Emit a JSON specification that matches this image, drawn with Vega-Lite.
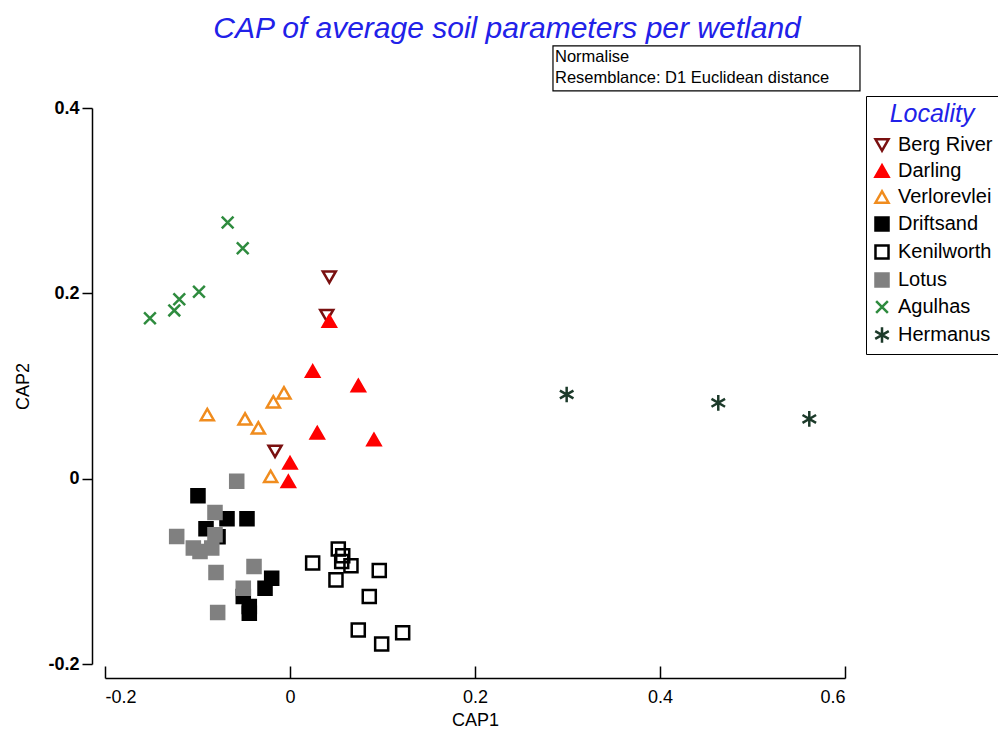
{
  "$schema": "https://vega.github.io/schema/vega-lite/v6.json",
  "autosize": {"type": "none"},
  "width": 740,
  "height": 556,
  "padding": {"left": 105, "top": 108, "right": 153, "bottom": 69},
  "background": "white",
  "title": {
    "text": "CAP of average soil parameters per wetland",
    "font": "Liberation Sans",
    "fontSize": 30,
    "fontStyle": "italic",
    "fontWeight": "normal",
    "color": "#2121e8",
    "anchor": "middle",
    "frame": "group",
    "dx": 32,
    "offset": 1
  },
  "layer": [
    {
      "data": {
        "values": [
          {"Locality": "Agulhas", "CAP1": -0.0674, "CAP2": 0.2764},
          {"Locality": "Agulhas", "CAP1": -0.0511, "CAP2": 0.2486},
          {"Locality": "Agulhas", "CAP1": -0.0984, "CAP2": 0.2018},
          {"Locality": "Agulhas", "CAP1": -0.1197, "CAP2": 0.1935},
          {"Locality": "Agulhas", "CAP1": -0.1251, "CAP2": 0.1816},
          {"Locality": "Agulhas", "CAP1": -0.1514, "CAP2": 0.1730},
          {"Locality": "Hermanus", "CAP1": 0.2991, "CAP2": 0.0908},
          {"Locality": "Hermanus", "CAP1": 0.4630, "CAP2": 0.0818},
          {"Locality": "Hermanus", "CAP1": 0.5614, "CAP2": 0.0645},
          {"Locality": "Verlorevlei", "CAP1": -0.0894, "CAP2": 0.0692},
          {"Locality": "Verlorevlei", "CAP1": -0.0486, "CAP2": 0.0645},
          {"Locality": "Verlorevlei", "CAP1": -0.0342, "CAP2": 0.0548},
          {"Locality": "Verlorevlei", "CAP1": -0.0180, "CAP2": 0.0829},
          {"Locality": "Verlorevlei", "CAP1": -0.0065, "CAP2": 0.0926},
          {"Locality": "Verlorevlei", "CAP1": -0.0209, "CAP2": 0.0025},
          {"Locality": "Berg River", "CAP1": 0.0425, "CAP2": 0.2176},
          {"Locality": "Berg River", "CAP1": 0.0397, "CAP2": 0.1760},
          {"Locality": "Berg River", "CAP1": -0.0162, "CAP2": 0.0295},
          {"Locality": "Darling", "CAP1": 0.0425, "CAP2": 0.1700},
          {"Locality": "Darling", "CAP1": 0.0245, "CAP2": 0.1160},
          {"Locality": "Darling", "CAP1": 0.0739, "CAP2": 0.1005},
          {"Locality": "Darling", "CAP1": 0.0295, "CAP2": 0.0494},
          {"Locality": "Darling", "CAP1": 0.0908, "CAP2": 0.0422},
          {"Locality": "Darling", "CAP1": 0.0000, "CAP2": 0.0170},
          {"Locality": "Darling", "CAP1": -0.0018, "CAP2": -0.0030},
          {"Locality": "Driftsand", "CAP1": -0.0995, "CAP2": -0.0184},
          {"Locality": "Driftsand", "CAP1": -0.0908, "CAP2": -0.0541},
          {"Locality": "Driftsand", "CAP1": -0.0681, "CAP2": -0.0432},
          {"Locality": "Driftsand", "CAP1": -0.0465, "CAP2": -0.0432},
          {"Locality": "Driftsand", "CAP1": -0.0778, "CAP2": -0.0627},
          {"Locality": "Driftsand", "CAP1": -0.0198, "CAP2": -0.1074},
          {"Locality": "Driftsand", "CAP1": -0.0270, "CAP2": -0.1182},
          {"Locality": "Driftsand", "CAP1": -0.0505, "CAP2": -0.1272},
          {"Locality": "Driftsand", "CAP1": -0.0440, "CAP2": -0.1380},
          {"Locality": "Driftsand", "CAP1": -0.0440, "CAP2": -0.1452},
          {"Locality": "Lotus", "CAP1": -0.0576, "CAP2": -0.0029},
          {"Locality": "Lotus", "CAP1": -0.0811, "CAP2": -0.0364},
          {"Locality": "Lotus", "CAP1": -0.1225, "CAP2": -0.0624},
          {"Locality": "Lotus", "CAP1": -0.1045, "CAP2": -0.0749},
          {"Locality": "Lotus", "CAP1": -0.0973, "CAP2": -0.0786},
          {"Locality": "Lotus", "CAP1": -0.0846, "CAP2": -0.0749},
          {"Locality": "Lotus", "CAP1": -0.0811, "CAP2": -0.0605},
          {"Locality": "Lotus", "CAP1": -0.0800, "CAP2": -0.1013},
          {"Locality": "Lotus", "CAP1": -0.0389, "CAP2": -0.0948},
          {"Locality": "Lotus", "CAP1": -0.0505, "CAP2": -0.1182},
          {"Locality": "Lotus", "CAP1": -0.0782, "CAP2": -0.1445},
          {"Locality": "Kenilworth", "CAP1": 0.0245, "CAP2": -0.0911},
          {"Locality": "Kenilworth", "CAP1": 0.0522, "CAP2": -0.0760},
          {"Locality": "Kenilworth", "CAP1": 0.0570, "CAP2": -0.0832},
          {"Locality": "Kenilworth", "CAP1": 0.0559, "CAP2": -0.0894},
          {"Locality": "Kenilworth", "CAP1": 0.0659, "CAP2": -0.0940},
          {"Locality": "Kenilworth", "CAP1": 0.0497, "CAP2": -0.1092},
          {"Locality": "Kenilworth", "CAP1": 0.0965, "CAP2": -0.0991},
          {"Locality": "Kenilworth", "CAP1": 0.0857, "CAP2": -0.1272},
          {"Locality": "Kenilworth", "CAP1": 0.0738, "CAP2": -0.1632},
          {"Locality": "Kenilworth", "CAP1": 0.1218, "CAP2": -0.1662},
          {"Locality": "Kenilworth", "CAP1": 0.0991, "CAP2": -0.1784}
        ]
      },
      "mark": {"type": "point", "opacity": 1, "size": 170, "strokeWidth": 2.5},
      "encoding": {
        "x": {
          "field": "CAP1", "type": "quantitative", "title": "CAP1",
          "scale": {"domain": [-0.2, 0.6], "nice": false, "zero": false},
          "axis": {
            "values": [-0.2, 0, 0.2, 0.4, 0.6],
            "labelExpr": "datum.value == 0 ? '0' : (datum.value < 0 ? '-' : '') + format(abs(datum.value), '.1f')",
            "offset": 14,
            "tickSize": -12,
            "labelPadding": 22,
            "labelFont": "Liberation Sans",
            "labelFontSize": 18,
            "titleFont": "Liberation Sans",
            "titleFontSize": 18,
            "titlePadding": 5
          }
        },
        "y": {
          "field": "CAP2", "type": "quantitative", "title": "CAP2",
          "scale": {"domain": [-0.2, 0.4], "nice": false, "zero": false},
          "axis": {
            "values": [-0.2, 0, 0.2, 0.4],
            "labelExpr": "datum.value == 0 ? '0' : (datum.value < 0 ? '-' : '') + format(abs(datum.value), '.1f')",
            "offset": 13,
            "tickSize": 10,
            "labelPadding": 3,
            "labelFont": "Liberation Sans",
            "labelFontWeight": "bold",
            "labelFontSize": 18,
            "titleFont": "Liberation Sans",
            "titleFontSize": 18,
            "titlePadding": 15
          }
        },
        "shape": {
          "field": "Locality", "type": "nominal", "title": "Locality",
          "scale": {
            "domain": ["Berg River", "Darling", "Verlorevlei", "Driftsand", "Kenilworth", "Lotus", "Agulhas", "Hermanus"],
            "range": ["triangle-down", "triangle-up", "triangle-up", "square", "square", "square",
                      "M-0.9,-0.9L0.9,0.9M-0.9,0.9L0.9,-0.9",
                      "M0,-1.2L0,1.2M-1.04,-0.6L1.04,0.6M-1.04,0.6L1.04,-0.6"]
          }
        },
        "fill": {
          "field": "Locality", "type": "nominal", "title": "Locality",
          "scale": {
            "domain": ["Berg River", "Darling", "Verlorevlei", "Driftsand", "Kenilworth", "Lotus", "Agulhas", "Hermanus"],
            "range": ["transparent", "#ff0000", "transparent", "#000000", "transparent", "#808080", "transparent", "transparent"]
          }
        },
        "stroke": {
          "field": "Locality", "type": "nominal", "title": "Locality",
          "scale": {
            "domain": ["Berg River", "Darling", "Verlorevlei", "Driftsand", "Kenilworth", "Lotus", "Agulhas", "Hermanus"],
            "range": ["#7a1010", "#ff0000", "#f08c1e", "#000000", "#000000", "#808080", "#2e8b3e", "#1c3a2a"]
          }
        }
      }
    },
    {
      "data": {"values": [{"note": "settings"}]},
      "mark": {"type": "rect", "fill": "white", "stroke": "black", "strokeWidth": 1.2},
      "encoding": {
        "x": {"datum": 0.2843, "type": "quantitative"},
        "x2": {"datum": 0.6162},
        "y": {"datum": 0.4670, "type": "quantitative"},
        "y2": {"datum": 0.4184}
      }
    },
    {
      "data": {"values": [{"note": "settings"}]},
      "mark": {
        "type": "text", "align": "left", "baseline": "top",
        "font": "Liberation Sans", "fontSize": 16.5, "fontWeight": "normal",
        "lineHeight": 21, "fill": "black", "dy": 2
      },
      "encoding": {
        "x": {"datum": 0.2865, "type": "quantitative"},
        "y": {"datum": 0.4660, "type": "quantitative"},
        "text": {"value": ["Normalise", "Resemblance: D1 Euclidean distance"]}
      }
    }
  ],
  "config": {
    "view": {"stroke": null},
    "axis": {
      "grid": false,
      "domainColor": "black",
      "domainWidth": 1.5,
      "tickColor": "black",
      "tickWidth": 1.5,
      "labelColor": "black",
      "titleColor": "black",
      "titleFontWeight": "normal"
    },
    "legend": {
      "orient": "none",
      "legendX": 761,
      "legendY": -12,
      "titleFont": "Liberation Sans",
      "titleFontSize": 25,
      "titleFontStyle": "italic",
      "titleFontWeight": "normal",
      "titleColor": "#2121e8",
      "titleAnchor": "middle",
      "titlePadding": 8,
      "labelFont": "Liberation Sans",
      "labelFontSize": 20,
      "labelColor": "black",
      "labelOffset": 6,
      "strokeColor": "black",
      "fillColor": "white",
      "padding": 6,
      "rowPadding": 4,
      "symbolSize": 170,
      "symbolStrokeWidth": 2.5,
      "symbolOpacity": 1
    }
  }
}
